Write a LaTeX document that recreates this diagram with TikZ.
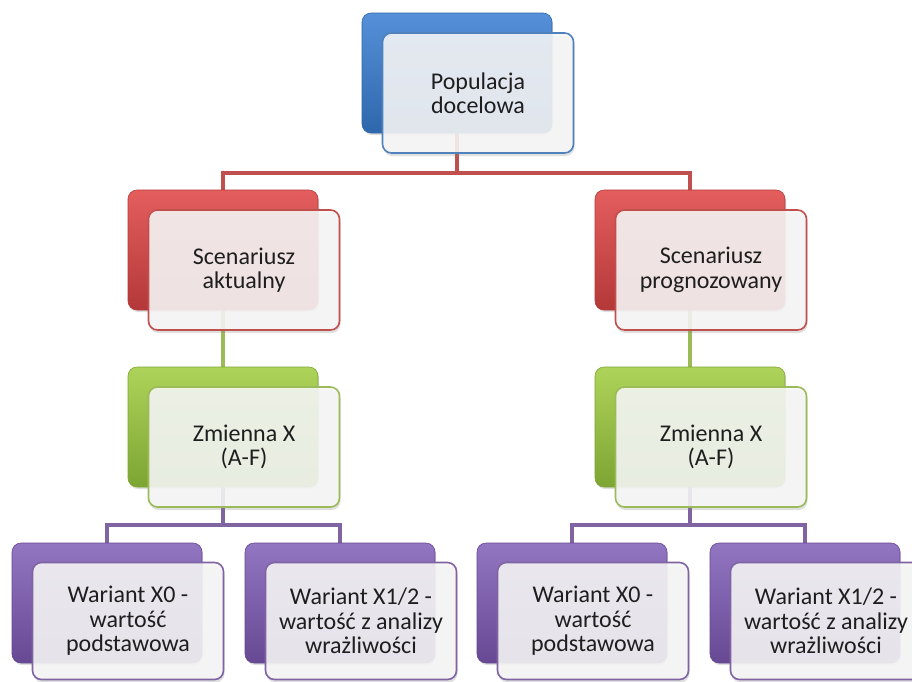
\documentclass[tikz,border=0pt]{standalone}
\usepackage{fontspec}
\setmainfont{Carlito}
\usetikzlibrary{shadows}
\pgfdeclarelayer{bg}
\pgfdeclarelayer{conns}
\pgfsetlayers{bg,conns,main}
\definecolor{cblue}{HTML}{4F81BD}
\definecolor{cred}{HTML}{C0504D}
\definecolor{cgreen}{HTML}{9BBB59}
\definecolor{cpurple}{HTML}{8064A2}
\definecolor{ctext}{HTML}{1E1E1E}
% back box fills
\definecolor{cbluetop}{HTML}{5590D8}
\definecolor{cbluemid}{HTML}{3C7DC9}
\definecolor{cbluebot}{HTML}{2F67AC}
\definecolor{credtop}{HTML}{E45E5E}
\definecolor{credmid}{HTML}{D64646}
\definecolor{credbot}{HTML}{B43838}
\definecolor{cgreentop}{HTML}{AED35A}
\definecolor{cgreenmid}{HTML}{98C241}
\definecolor{cgreenbot}{HTML}{7DA533}
\definecolor{cpurpletop}{HTML}{9376C2}
\definecolor{cpurplemid}{HTML}{7E5CB0}
\definecolor{cpurplebot}{HTML}{664893}
\tikzset{
  backbox/.style={rounded corners=9pt, minimum width=190pt, minimum height=120pt,
    inner sep=0pt, top color=#1top, middle color=#1mid, bottom color=#1bot,
    draw=#1bot, line width=0.6pt,
    drop shadow={shadow xshift=1pt, shadow yshift=-2pt, opacity=0.25}},
  frontbox/.style={rounded corners=9pt, minimum width=191pt, minimum height=120pt,
    inner sep=0pt, draw=#1, line width=1.6pt, fill=#1!6!gray!6!white, fill opacity=0.88,
    text opacity=1, align=center, text=ctext,
    font=\fontsize{24}{24.5}\selectfont,
    drop shadow={shadow xshift=1pt, shadow yshift=-3pt, opacity=0.25}},
  conn/.style={line width=4pt, draw=#1}
}
\begin{document}
\begin{tikzpicture}[x=1pt,y=-1pt]
\begin{pgfonlayer}{bg}
\fill[white] (0,0) rectangle (912,681);
\end{pgfonlayer}
\useasboundingbox (0,0) rectangle (912,681);
% back boxes
\node[backbox=cblue] (popb) at (457,73) {};
\node[backbox=cred] (scab) at (223,250) {};
\node[backbox=cred] (scpb) at (690,250) {};
\node[backbox=cgreen] (zm1b) at (223,427) {};
\node[backbox=cgreen] (zm2b) at (690,427) {};
\node[backbox=cpurple] (w1b) at (107,603) {};
\node[backbox=cpurple] (w2b) at (340,603) {};
\node[backbox=cpurple] (w3b) at (572,603) {};
\node[backbox=cpurple] (w4b) at (805,603) {};
% front boxes
\node[frontbox=cblue] (popf) at (478,93) {Populacja\\docelowa};
\node[frontbox=cred] (scaf) at (244,270) {Scenariusz\\aktualny};
\node[frontbox=cred] (scpf) at (711,270) {Scenariusz\\prognozowany};
\node[frontbox=cgreen] (zm1f) at (244,447) {Zmienna X\\(A-F)};
\node[frontbox=cgreen] (zm2f) at (711,447) {Zmienna X\\(A-F)};
\node[frontbox=cpurple, minimum height=117pt] (w1f) at (128,621) {Wariant X0 -\\wartość\\podstawowa};
\node[frontbox=cpurple, minimum height=117pt] (w2f) at (361,621) {Wariant X1/2 -\\wartość z analizy\\wrażliwości};
\node[frontbox=cpurple, minimum height=117pt] (w3f) at (593,621) {Wariant X0 -\\wartość\\podstawowa};
\node[frontbox=cpurple, minimum height=117pt] (w4f) at (826,621) {Wariant X1/2 -\\wartość z analizy\\wrażliwości};
% connectors
\coordinate (rj) at (457,173);
\coordinate (pj1) at (223,525);
\coordinate (pj2) at (690,525);
\begin{pgfonlayer}{conns}
\draw[conn=cred] (popb.center) -- (rj);
\draw[conn=cred] (scab.center) |- (rj) -| (scpb.center);
\draw[conn=cgreen] (scab.center) -- (zm1b.center);
\draw[conn=cgreen] (scpb.center) -- (zm2b.center);
\draw[conn=cpurple] (zm1b.center) -- (pj1);
\draw[conn=cpurple] (w1b.center) |- (pj1) -| (w2b.center);
\draw[conn=cpurple] (zm2b.center) -- (pj2);
\draw[conn=cpurple] (w3b.center) |- (pj2) -| (w4b.center);
\end{pgfonlayer}
\end{tikzpicture}
\end{document}
